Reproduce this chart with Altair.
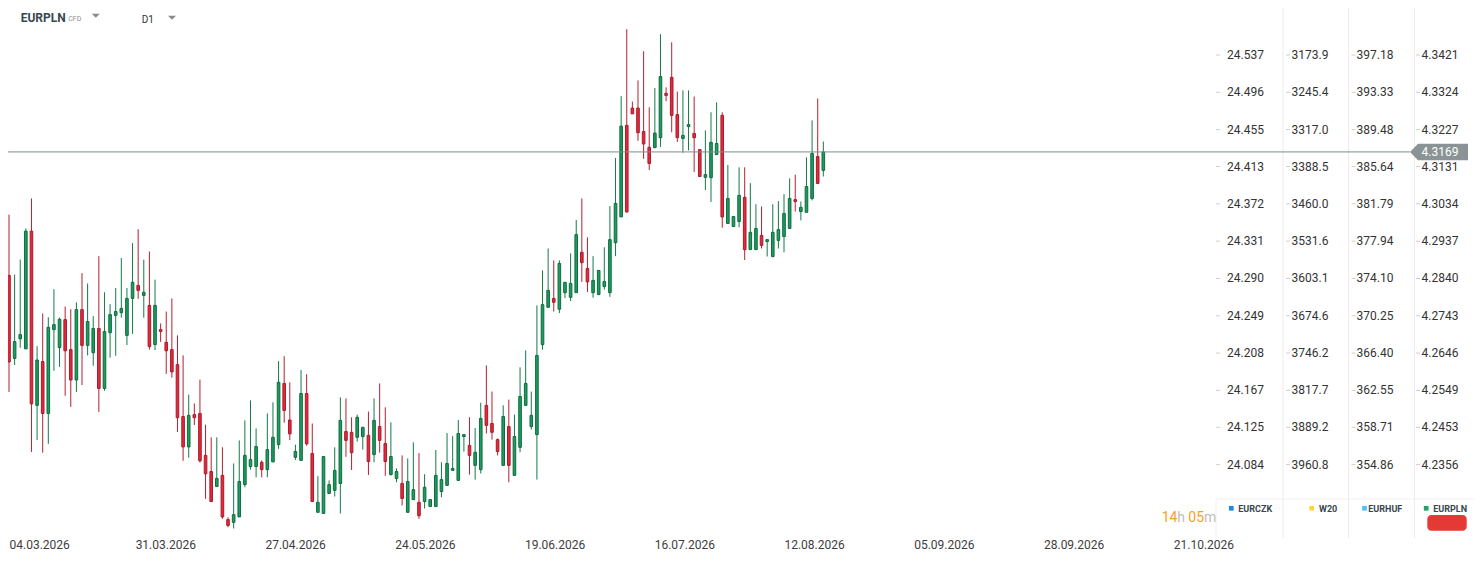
import json
import altair as alt
import pandas as pd

opens = [4.2848, 4.2632, 4.2683, 4.2657, 4.2963, 4.2510, 4.2624, 4.2489, 4.2707, 4.2660,
         4.2733, 4.2655, 4.2576, 4.2759, 4.2666, 4.2647, 4.2710, 4.2554, 4.2699, 4.2744,
         4.2751, 4.2692, 4.2788, 4.2822, 4.2796, 4.2770, 4.2668, 4.2707, 4.2674, 4.2655,
         4.2616, 4.2481, 4.2402, 4.2486, 4.2489, 4.2380, 4.2338, 4.2299, 4.2328, 4.2213,
         4.2206, 4.2220, 4.2304, 4.2351, 4.2351, 4.2362, 4.2343, 4.2363, 4.2408, 4.2567,
         4.2472, 4.2375, 4.2367, 4.2541, 4.2385, 4.2232, 4.2229, 4.2281, 4.2289, 4.2307,
         4.2442, 4.2440, 4.2427, 4.2429, 4.2432, 4.2382, 4.2455, 4.2411, 4.2330, 4.2320,
         4.2307, 4.2232, 4.2265, 4.2258, 4.2260, 4.2247, 4.2247, 4.2286, 4.2302, 4.2341,
         4.2315, 4.2429, 4.2406, 4.2354, 4.2343, 4.2510, 4.2463, 4.2421, 4.2354, 4.2455,
         4.2328, 4.2401, 4.2510, 4.2455, 4.2434, 4.2668, 4.2765, 4.2788, 4.2760, 4.2803,
         4.2791, 4.2803, 4.2908, 4.2866, 4.2803, 4.2798, 4.2819, 4.2803, 4.2933, 4.3000,
         4.3238, 4.3283, 4.3283, 4.3222, 4.3181, 4.3180, 4.3206, 4.3321, 4.3363, 4.3266,
         4.3204, 4.3235, 4.3217, 4.3175, 4.3103, 4.3102, 4.3162, 4.3264, 4.2983, 4.2975,
         4.2988, 4.3051, 4.2915, 4.2915, 4.2952, 4.2936, 4.2897, 4.2939, 4.2949, 4.2970,
         4.3045, 4.3014, 4.3012, 4.3048, 4.3157, 4.3121]
highs = [4.3006, 4.2850, 4.2889, 4.2970, 4.3048, 4.2664, 4.2749, 4.2739, 4.2812, 4.2738,
         4.2767, 4.2760, 4.2778, 4.2854, 4.2827, 4.2742, 4.2898, 4.2804, 4.2773, 4.2815,
         4.2893, 4.2815, 4.2932, 4.2968, 4.2889, 4.2910, 4.2837, 4.2723, 4.2754, 4.2788,
         4.2692, 4.2640, 4.2538, 4.2515, 4.2577, 4.2460, 4.2427, 4.2427, 4.2401, 4.2219,
         4.2359, 4.2419, 4.2471, 4.2523, 4.2450, 4.2367, 4.2489, 4.2518, 4.2625, 4.2638,
         4.2570, 4.2408, 4.2602, 4.2591, 4.2463, 4.2326, 4.2377, 4.2315, 4.2401, 4.2531,
         4.2528, 4.2479, 4.2486, 4.2453, 4.2494, 4.2528, 4.2567, 4.2505, 4.2466, 4.2346,
         4.2380, 4.2372, 4.2414, 4.2386, 4.2331, 4.2265, 4.2394, 4.2362, 4.2438, 4.2430,
         4.2472, 4.2435, 4.2479, 4.2451, 4.2517, 4.2614, 4.2546, 4.2424, 4.2510, 4.2525,
         4.2486, 4.2609, 4.2653, 4.2546, 4.2770, 4.2861, 4.2918, 4.2887, 4.2887, 4.2830,
         4.2905, 4.2992, 4.3048, 4.2947, 4.2898, 4.2861, 4.2921, 4.3028, 4.3153, 4.3314,
         4.3488, 4.3300, 4.3355, 4.3431, 4.3285, 4.3335, 4.3475, 4.3337, 4.3454, 4.3326,
         4.3329, 4.3329, 4.3313, 4.3176, 4.3225, 4.3272, 4.3298, 4.3272, 4.3135, 4.3001,
         4.3129, 4.3129, 4.3088, 4.3033, 4.3027, 4.2941, 4.3033, 4.3041, 4.3059, 4.3100,
         4.3110, 4.3040, 4.3155, 4.3251, 4.3308, 4.3196]
lows = [4.2545, 4.2615, 4.2660, 4.2657, 4.2389, 4.2420, 4.2387, 4.2410, 4.2600, 4.2610,
        4.2535, 4.2506, 4.2545, 4.2563, 4.2640, 4.2613, 4.2493, 4.2548, 4.2634, 4.2639,
        4.2738, 4.2667, 4.2696, 4.2787, 4.2738, 4.2655, 4.2654, 4.2675, 4.2592, 4.2582,
        4.2441, 4.2366, 4.2374, 4.2459, 4.2361, 4.2267, 4.2260, 4.2299, 4.2215, 4.2193,
        4.2190, 4.2220, 4.2297, 4.2343, 4.2323, 4.2323, 4.2323, 4.2363, 4.2397, 4.2465,
        4.2420, 4.2368, 4.2367, 4.2405, 4.2260, 4.2232, 4.2229, 4.2281, 4.2273, 4.2229,
        4.2376, 4.2342, 4.2416, 4.2395, 4.2329, 4.2362, 4.2387, 4.2327, 4.2328, 4.2310,
        4.2250, 4.2232, 4.2265, 4.2215, 4.2242, 4.2247, 4.2247, 4.2271, 4.2302, 4.2341,
        4.2315, 4.2390, 4.2330, 4.2317, 4.2333, 4.2437, 4.2421, 4.2380, 4.2354, 4.2310,
        4.2328, 4.2388, 4.2510, 4.2447, 4.2317, 4.2655, 4.2765, 4.2754, 4.2750, 4.2789,
        4.2781, 4.2803, 4.2831, 4.2805, 4.2790, 4.2798, 4.2811, 4.2792, 4.2898, 4.3000,
        4.3011, 4.3268, 4.3198, 4.3151, 4.3122, 4.3180, 4.3182, 4.3301, 4.3220, 4.3195,
        4.3167, 4.3173, 4.3117, 4.3105, 4.3070, 4.3039, 4.3162, 4.2972, 4.2983, 4.2975,
        4.2973, 4.2888, 4.2915, 4.2915, 4.2918, 4.2897, 4.2895, 4.2918, 4.2908, 4.2970,
        4.3014, 4.2991, 4.3012, 4.3043, 4.3087, 4.3105]
closes = [4.2623, 4.2676, 4.2694, 4.2963, 4.2514, 4.2628, 4.2489, 4.2713, 4.2720, 4.2734,
          4.2652, 4.2576, 4.2759, 4.2666, 4.2728, 4.2710, 4.2554, 4.2702, 4.2746, 4.2754,
          4.2762, 4.2788, 4.2830, 4.2809, 4.2804, 4.2663, 4.2770, 4.2702, 4.2652, 4.2597,
          4.2478, 4.2402, 4.2484, 4.2478, 4.2366, 4.2332, 4.2260, 4.2320, 4.2220, 4.2198,
          4.2226, 4.2312, 4.2380, 4.2369, 4.2403, 4.2343, 4.2395, 4.2427, 4.2570, 4.2497,
          4.2436, 4.2390, 4.2541, 4.2410, 4.2260, 4.2258, 4.2377, 4.2304, 4.2341, 4.2471,
          4.2419, 4.2387, 4.2479, 4.2453, 4.2364, 4.2471, 4.2419, 4.2364, 4.2377, 4.2338,
          4.2268, 4.2312, 4.2291, 4.2223, 4.2297, 4.2265, 4.2328, 4.2317, 4.2359, 4.2346,
          4.2437, 4.2434, 4.2380, 4.2388, 4.2476, 4.2458, 4.2440, 4.2390, 4.2481, 4.2354,
          4.2429, 4.2533, 4.2567, 4.2484, 4.2640, 4.2772, 4.2809, 4.2778, 4.2879, 4.2830,
          4.2827, 4.2954, 4.2881, 4.2831, 4.2835, 4.2861, 4.2832, 4.2941, 4.3035, 4.3236,
          4.3013, 4.3268, 4.3219, 4.3190, 4.3139, 4.3218, 4.3365, 4.3316, 4.3264, 4.3206,
          4.3212, 4.3240, 4.3206, 4.3105, 4.3110, 4.3194, 4.3191, 4.3000, 4.3048, 4.3001,
          4.3056, 4.2915, 4.2960, 4.2970, 4.2926, 4.2941, 4.2960, 4.2967, 4.3009, 4.3048,
          4.3040, 4.3025, 4.3079, 4.3165, 4.3087, 4.3169]

date_labels = ["04.03.2026", "31.03.2026", "27.04.2026", "24.05.2026", "19.06.2026",
               "16.07.2026", "12.08.2026", "05.09.2026", "28.09.2026", "21.10.2026"]

eurczk_ticks = ["24.537", "24.496", "24.455", "24.413", "24.372", "24.331",
                "24.290", "24.249", "24.208", "24.167", "24.125", "24.084"]
w20_ticks = ["3173.9", "3245.4", "3317.0", "3388.5", "3460.0", "3531.6",
             "3603.1", "3674.6", "3746.2", "3817.7", "3889.2", "3960.8"]
eurhuf_ticks = ["397.18", "393.33", "389.48", "385.64", "381.79", "377.94",
                "374.10", "370.25", "366.40", "362.55", "358.71", "354.86"]
eurpln_ticks = ["4.3421", "4.3324", "4.3227", "4.3131", "4.3034", "4.2937",
                "4.2840", "4.2743", "4.2646", "4.2549", "4.2453", "4.2356"]

last_price = "4.3169"
symbol = "EURPLN"
symbol_type = "CFD"
interval = "D1"
legend_names = ["EURCZK", "W20", "EURHUF", "EURPLN"]
legend_colors = ["#1e88e5", "#fdd835", "#4fc3f7", "#22a36a"]
countdown_parts = ["14", "h", "05", "m"]

# ---------------- layout / style ----------------
FONT = "Roboto"
W, H = 1466, 522
Y_DOMAIN = [4.2186, 4.35432]
X_DOMAIN = [-0.178, 260.86]
P0, STEP = 4.719, 23.106

df = pd.DataFrame({"i": list(range(len(opens))), "o": opens, "h": highs,
                   "l": lows, "c": closes})
df["dir"] = ["up" if c >= o else "down" for o, c in zip(opens, closes)]

xs = alt.Scale(domain=X_DOMAIN, nice=False, zero=False, padding=0)
ys = alt.Scale(domain=Y_DOMAIN, nice=False, zero=False, padding=0)

# label slots (the first one nudged right so it is not cut by the page margin)
date_pos = [P0 + STEP * k + (0.65 if k == 0 else 0.0) for k in range(len(date_labels))]
label_expr = f"{json.dumps(date_labels)}[round((datum.value - {P0}) / {STEP})]"
xaxis = alt.Axis(values=date_pos, labelExpr=label_expr, domain=False, ticks=False,
                 tickSize=0, grid=False, labelPadding=9, labelFont=FONT,
                 labelFontSize=12, labelColor="#3d3d3d", title=None,
                 labelOverlap=False, labelFlush=False)


def one(text=""):
    return pd.DataFrame({"k": ["a"], "t": [text]})


layers = []

# faint panel separators
for xv in [1275, 1340.5, 1406.5]:
    layers.append(alt.Chart(one()).mark_rule(color="#ececec", strokeWidth=1).encode(
        x=alt.value(xv), y=alt.value(0), y2=alt.value(530), detail="k:N"))
layers.append(alt.Chart(one()).mark_rule(color="#f0f0f0", strokeWidth=1).encode(
    x=alt.value(1208), y=alt.value(491), y2=alt.value(530), detail="k:N"))
layers.append(alt.Chart(one()).mark_rule(color="#f0f0f0", strokeWidth=1).encode(
    x=alt.value(1208), x2=alt.value(1466), y=alt.value(491), detail="k:N"))

# candles
wicks = alt.Chart(df).mark_rule(strokeWidth=1).encode(
    x=alt.X("i:Q", scale=xs, axis=xaxis),
    y=alt.Y("l:Q", scale=ys, axis=None),
    y2="h:Q",
    color=alt.Color("dir:N", scale=alt.Scale(domain=["up", "down"],
                    range=["#137a48", "#b3202f"]), legend=None),
)
bodies = alt.Chart(df).mark_bar(width=2.6, strokeWidth=1).encode(
    x=alt.X("i:Q", scale=xs),
    y=alt.Y("o:Q", scale=ys, axis=None),
    y2="c:Q",
    fill=alt.Fill("dir:N", scale=alt.Scale(domain=["up", "down"],
                  range=["#1c9c5e", "#e5283b"]), legend=None),
    stroke=alt.Stroke("dir:N", scale=alt.Scale(domain=["up", "down"],
                      range=["#0e6b3f", "#a81b2b"]), legend=None),
)
layers += [wicks, bodies]

# current price line
price_df = pd.DataFrame({"p": [float(last_price)], "t": [last_price]})
layers.append(alt.Chart(price_df).mark_rule(color="#7f8b8d", strokeWidth=1).encode(
    x=alt.value(0), x2=alt.value(1402), y=alt.Y("p:Q", scale=ys, axis=None)))

# right-hand price columns
ticks_df = pd.DataFrame({"tick": [float(v) for v in eurpln_ticks], "czk": eurczk_ticks,
                         "w20": w20_ticks, "huf": eurhuf_ticks, "pln": eurpln_ticks})
for (a, b) in [(1208, 1212), (1278, 1282), (1343.5, 1347.5), (1408, 1412)]:
    layers.append(alt.Chart(ticks_df).mark_rule(color="#cfcfcf", strokeWidth=1).encode(
        x=alt.value(a), x2=alt.value(b), y=alt.Y("tick:Q", scale=ys, axis=None)))
for col, xv in [("czk", 1219), ("w20", 1283.5), ("huf", 1348.5), ("pln", 1413.5)]:
    layers.append(alt.Chart(ticks_df).mark_text(
        align="left", baseline="middle", font=FONT, fontSize=12, color="#333333").encode(
        x=alt.value(xv), y=alt.Y("tick:Q", scale=ys, axis=None), text=f"{col}:N"))

# price badge
badge_path = "M -1 0 L -0.724 -0.284 L 1 -0.284 L 1 0.284 L -0.724 0.284 Z"
layers.append(alt.Chart(price_df).mark_point(
    shape=badge_path, filled=True, size=3364, color="#8a9496", opacity=1, strokeWidth=0).encode(
    x=alt.value(1431), y=alt.Y("p:Q", scale=ys, axis=None)))
layers.append(alt.Chart(price_df).mark_text(
    align="left", baseline="middle", font=FONT, fontSize=12, color="#ffffff").encode(
    x=alt.value(1413.5), y=alt.Y("p:Q", scale=ys, axis=None), text="t:N"))

# header
tri_path = "M -1 -0.5 L 1 -0.5 L 0 0.5 Z"
for txt, xv, yv, fs, fw, colr in [(symbol, 12.7, 10.3, 12, "bold", "#37474f"),
                                  (symbol_type, 60.3, 11, 7, "normal", "#8f8f8f"),
                                  (interval, 133.7, 12, 10, "normal", "#333333")]:
    layers.append(alt.Chart(one(txt)).mark_text(
        align="left", baseline="middle", font=FONT, fontSize=fs, fontWeight=fw,
        color=colr).encode(x=alt.value(xv), y=alt.value(yv), text="t:N"))
for xv, yv in [(87.8, 7.7), (164, 9.7)]:
    layers.append(alt.Chart(one()).mark_point(
        shape=tri_path, filled=True, size=64, color="#8a8a8a", opacity=1, strokeWidth=0).encode(
        x=alt.value(xv), y=alt.value(yv), detail="k:N"))

# legend row
for name, colr, sx, tx in zip(legend_names, legend_colors,
                              [1223.3, 1303.7, 1356.5, 1418.2],
                              [1230.3, 1311.0, 1360.3, 1425.3]):
    layers.append(alt.Chart(one()).mark_point(
        shape="square", filled=True, size=22, color=colr, opacity=1, strokeWidth=0).encode(
        x=alt.value(sx), y=alt.value(500.3), detail="k:N"))
    layers.append(alt.Chart(one(name)).mark_text(
        align="left", baseline="middle", font=FONT, fontSize=9,
        fontWeight="bold", color="#37474f").encode(
        x=alt.value(tx), y=alt.value(500.8), text="t:N"))
layers.append(alt.Chart(one()).mark_rect(color="#e53935", cornerRadius=4).encode(
    x=alt.value(1419.3), x2=alt.value(1458.7), y=alt.value(507), y2=alt.value(522.7),
    detail="k:N"))

# countdown
for txt, xv, colr in zip(countdown_parts, [1153.7, 1169.2, 1180.3, 1196.0],
                         ["#f7a11a", "#bdbdbd", "#f7a11a", "#bdbdbd"]):
    layers.append(alt.Chart(one(txt)).mark_text(
        align="left", baseline="middle", font=FONT, fontSize=14,
        color=colr).encode(x=alt.value(xv), y=alt.value(509.5), text="t:N"))

chart = alt.layer(*layers).properties(
    width=W, height=H,
    padding={"left": 0, "top": 0, "right": 0, "bottom": 33},
    autosize=alt.AutoSizeParams(type="none"),
).configure(background="white").configure_view(stroke=None)

chart.save("out.html", embed_options={"renderer": "svg", "actions": False})
